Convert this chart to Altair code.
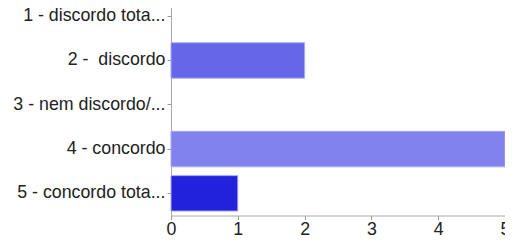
import altair as alt
import pandas as pd

categories = ["1 - discordo tota...", "2 - \u00a0discordo", "3 - nem discordo/...", "4 - concordo", "5 - concordo tota..."]
values = [0, 2, 0, 5, 1]
colors = ["#5b5be6", "#6666e8", "#7373ea", "#8282ee", "#2222dd"]
x_ticks = [0, 1, 2, 3, 4, 5]

df = pd.DataFrame({"cat": categories, "val": values})

chart = alt.Chart(df).mark_bar(stroke="#a8a8f4", strokeWidth=1).encode(
    y=alt.Y("cat:N", sort=categories, title=None,
            scale=alt.Scale(paddingInner=0.2, paddingOuter=0.1),
            axis=alt.Axis(labelFont="Liberation Sans", labelFontSize=17.8, labelColor="#222222",
                          labelPadding=2, tickSize=4, tickColor="#999999", domainColor="#aaaaaa",
                          labelLimit=200)),
    x=alt.X("val:Q", title=None, scale=alt.Scale(domain=[0, 5], nice=False),
            axis=alt.Axis(values=x_ticks, grid=False, labelFont="Liberation Sans", labelFontSize=17.8,
                          labelColor="#222222", tickSize=4, tickColor="#999999", domainColor="#aaaaaa",
                          labelPadding=1, labelFlush=False, format="d")),
    color=alt.Color("cat:N", scale=alt.Scale(domain=categories, range=colors), legend=None),
    strokeOpacity=alt.condition("datum.val > 0", alt.value(1), alt.value(0)),
).properties(
    width=334, height=221.5,
    autosize=alt.AutoSizeParams(type="none"),
    padding={"left": 163, "top": -14, "right": 0, "bottom": 19.5},
).configure_view(stroke=None)

chart.save("out.html", embed_options={"renderer": "svg", "actions": False})
